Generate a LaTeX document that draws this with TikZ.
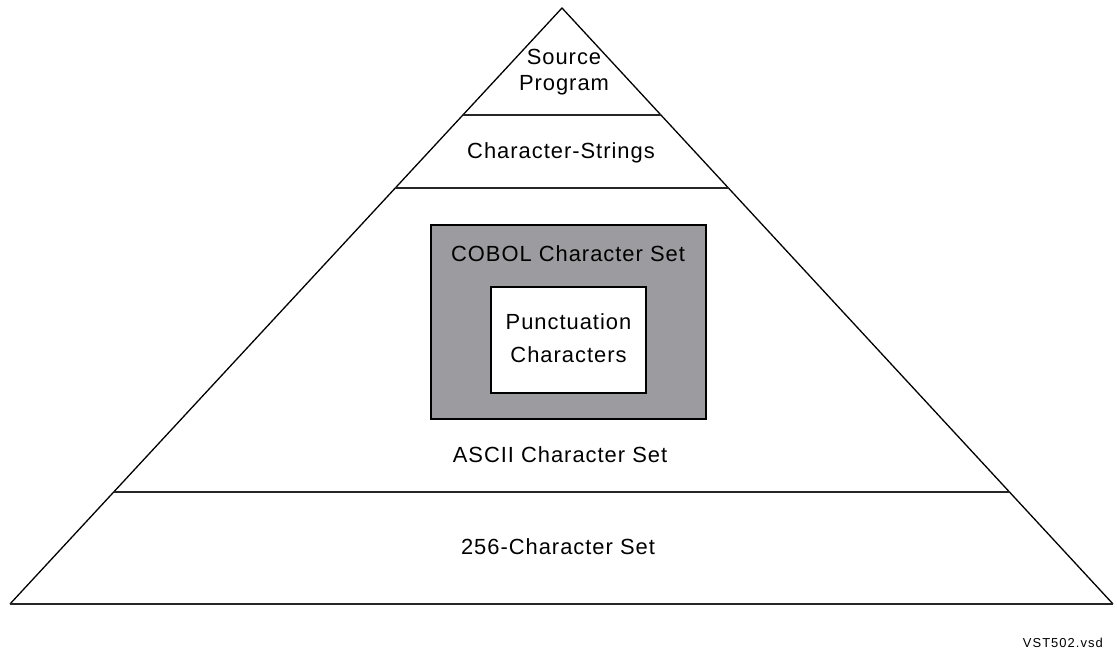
\documentclass[tikz,border=0pt]{standalone}
\usepackage{fontspec}
\setmainfont{Liberation Sans}[LetterSpace=4.5]
\definecolor{boxgray}{RGB}{155,155,160}
\tikzset{
  lbl/.style={font=\fontsize{22}{27}\selectfont, align=center, inner sep=0pt},
  edge/.style={line width=1.3bp, black},
  tier/.style={line width=1.8bp, black!85},
}
\begin{document}
\begin{tikzpicture}[x=1bp,y=-1bp]
\useasboundingbox (0,0) rectangle (1117,651);
\coordinate (apex) at (562,8);
\coordinate (bl) at (10,604);
\coordinate (br) at (1113,604);
% pyramid
\draw[edge, line join=miter] (bl) -- (apex) -- (br);
\draw[tier] (bl) -- (br);
\draw[tier] (463,115) -- (661,115);
\draw[tier] (395,188) -- (729,188);
\draw[tier] (114,492) -- (1010,492);
% boxes
\node[draw=black, line width=1.3bp, fill=boxgray, minimum width=275bp, minimum height=194bp, inner sep=0pt] (cobol) at (568.5,322) {};
\node[draw=black, line width=1.3bp, fill=white, minimum width=155bp, minimum height=106bp, inner sep=0pt] (punct) at (568.5,340) {};
% labels
\node[lbl] (src) at (564,72) {Source\\[-1pt]Program};
\node[lbl] (cs) at (561,153) {Character-Strings};
\node[lbl] (cobtxt) at (568,254) {COBOL Character Set};
\node[lbl] (punctxt) at (568.5,338) {Punctuation\\[6pt]Characters};
\node[lbl] (ascii) at (560,455) {ASCII Character Set};
\node[lbl] (c256) at (558,547) {256-Character Set};
\node[font=\fontsize{13}{15}\selectfont\addfontfeatures{LetterSpace=8}, anchor=east, inner sep=0pt] (vst) at (1103,643) {VST502.vsd};
\end{tikzpicture}
\end{document}
